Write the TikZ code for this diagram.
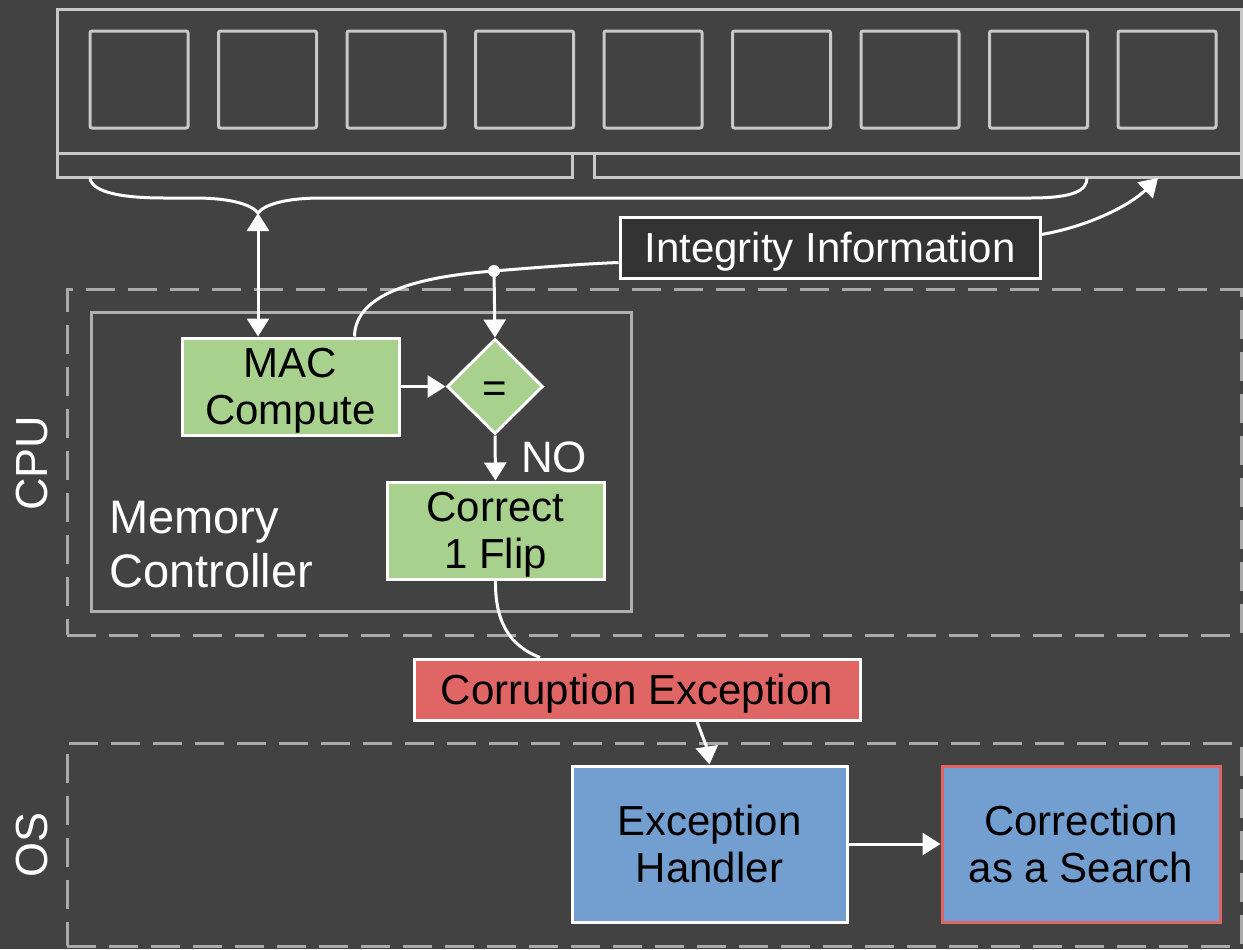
\documentclass[tikz,border=0pt]{standalone}
\usepackage{fontspec}
\setmainfont{Liberation Sans}
\usetikzlibrary{arrows.meta,shapes.geometric,calc}
\definecolor{bg}{HTML}{424242}
\definecolor{memgray}{HTML}{C8C8C8}
\definecolor{mcgray}{HTML}{B0B0B0}
\definecolor{dashgray}{HTML}{AAAAAA}
\definecolor{ggreen}{HTML}{A9D18E}
\definecolor{rred}{HTML}{E06666}
\definecolor{bblue}{HTML}{729FCF}
\definecolor{iifill}{HTML}{333333}
\begin{document}
\begin{tikzpicture}[x=0.5pt,y=-0.5pt,
  memline/.style={draw=memgray,line width=1.5pt,inner sep=0pt},
  cell/.style={memline,rounded corners=1pt,minimum width=49pt,minimum height=48.5pt},
  box/.style={draw=white,line width=1.5pt,inner sep=0pt,align=center,font=\fontsize{21}{23.5}\selectfont,text=black,text depth=0pt},
  region/.style={draw=dashgray,line width=1.5pt,dash pattern=on 14.5pt off 6.5pt,inner sep=0pt},
  wire/.style={draw=white,line width=1.5pt},
  tri/.style={-{Triangle[length=9pt,width=11pt]}},
  lbl/.style={text=white,inner sep=0pt}
]
\useasboundingbox (0,0) rectangle (1243,949);
\fill[bg] (0,0) rectangle (1243,949);

% memory
\node[memline,minimum width=592pt,minimum height=72pt] (mem) at (649,81) {};
\node[memline,minimum width=257.5pt,minimum height=12pt] (stripL) at (314.5,165) {};
\node[memline,minimum width=323.5pt,minimum height=12pt] (stripR) at (917.5,165) {};
\foreach \i in {0,...,8} \node[cell] (c\i) at ({139+128.5*\i},79.5) {};

% regions
\node[region,minimum width=587pt,minimum height=173pt] (cpu) at (654,462) {};
\node[region,minimum width=587pt,minimum height=101.5pt] (os) at (654,844.5) {};
\node[draw=mcgray,line width=1.5pt,inner sep=0pt,minimum width=270pt,minimum height=149.5pt] (mc) at (361,461.5) {};

\node[lbl,rotate=90,font=\fontsize{22.5}{25}\selectfont] (cpulbl) at (32,463) {CPU};
\node[lbl,rotate=90,font=\fontsize{22.5}{25}\selectfont] (oslbl) at (32,845) {OS};
\node[lbl,anchor=west,align=left,font=\fontsize{23.5}{27}\selectfont] (mctext) at (109,545) {Memory\\Controller};

% nodes
\node[box,fill=iifill,text=white,minimum width=210pt,minimum height=30.5pt] (ii) at (830,247.5) {Integrity Information};
\node[box,fill=ggreen,minimum width=108.5pt,minimum height=48.5pt] (mac) at (290.5,386.5) {MAC\\Compute};
\node[box,fill=ggreen,diamond,aspect=1,minimum width=48pt,minimum height=47.5pt] (eq) at (495,386.5) {\raisebox{-3pt}[\height][0pt]{=}};
\node[box,fill=ggreen,minimum width=108.5pt,minimum height=48.5pt] (cf) at (495.5,530.5) {Correct\\1 Flip};
\node[lbl,font=\fontsize{22}{25}\selectfont] (no) at (554,457) {NO};
\node[box,fill=rred,minimum width=223pt,minimum height=30.5pt] (ce) at (637,689.5) {Corruption Exception};
\node[box,fill=bblue,minimum width=137.5pt,minimum height=78pt] (eh) at (709.5,844) {Exception\\Handler};
\node[box,draw=rred,fill=bblue,minimum width=139pt,minimum height=78pt] (cas) at (1081,844) {Correction\\as a Search};

% brace
\coordinate (bl) at (90,178);
\coordinate (br) at (1087,178);
\coordinate (tip) at (258,213);
\draw[wire] (bl) .. controls (92,192) and (120,198) .. (165,198) -- (195,198)
  .. controls (232,198) and (252,205) .. (tip)
  .. controls (264,205) and (284,198) .. (322,198) -- (1030,198)
  .. controls (1075,198) and (1087,190) .. (br);
\draw[wire,{Triangle[length=9pt,width=11pt]}-{Triangle[length=9pt,width=11pt]}] (tip) -- (mac.north -| tip);

% integrity info
\coordinate (dot) at (494,271);
\coordinate (memin) at (1158,178);
\draw[wire] ([yshift=-7.5pt]ii.west) .. controls (580,264) and (530,268) .. (dot)
  .. controls (400,278) and (355,300) .. ([xshift=32pt]mac.north);
\fill[white] (dot) circle (3pt);
\draw[wire,tri] (dot) -- (eq.north);
\draw[wire,tri] ([yshift=6.5pt]ii.east) .. controls (1090,226) and (1130,205) .. (memin);

% flow
\draw[wire,tri] (mac.east |- eq.west) -- (eq.west);
\draw[wire,tri] (eq.south) -- (cf.north);
\draw[wire] (cf.south) .. controls (495,620) and (508,645) .. ([xshift=-48.5pt]ce.north);
\draw[wire,tri] ([xshift=30pt]ce.south) .. controls (702,735) and (707,748) .. (eh.north);
\draw[wire,tri] (eh.east) -- (cas.west);
\end{tikzpicture}
\end{document}
